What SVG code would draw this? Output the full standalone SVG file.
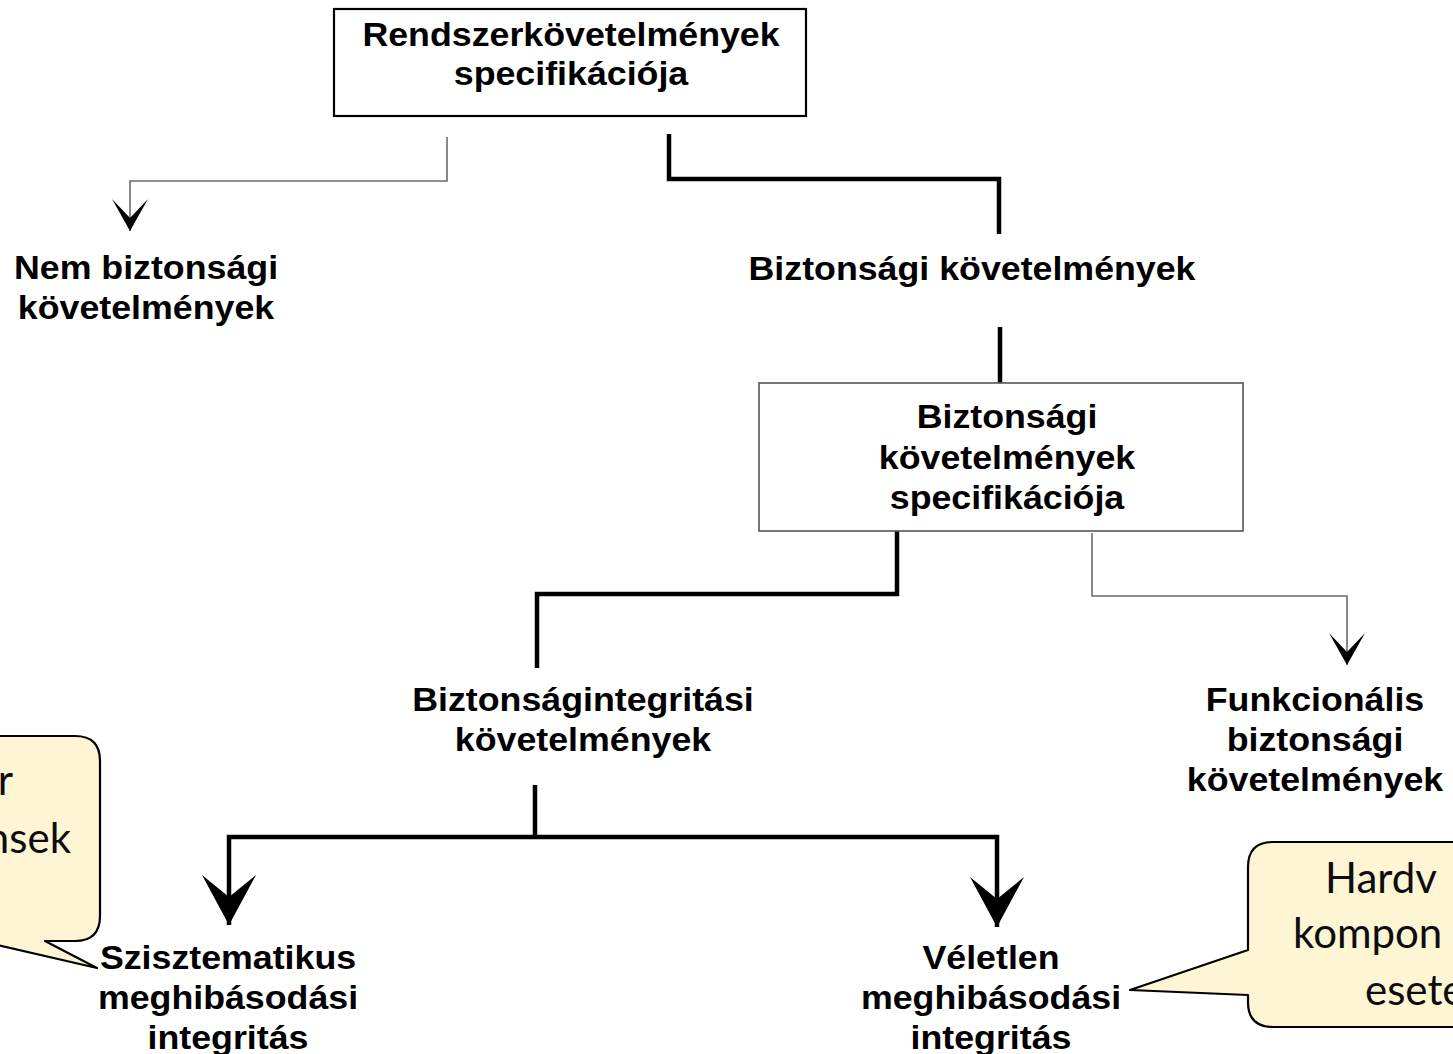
<svg xmlns="http://www.w3.org/2000/svg" width="1453" height="1054" viewBox="0 0 1453 1054">
<style>
.lbl{font-family:"Liberation Sans",Arial,sans-serif;font-weight:bold;font-size:32.5px;fill:#000;text-anchor:middle}
.box{fill:#fff}
.thin{fill:none;stroke:#6b6b6b;stroke-width:1.6}
.thick{fill:none;stroke:#000;stroke-width:4.5;stroke-linecap:butt;stroke-linejoin:miter}
.call{fill:#fef5d4;stroke:#000;stroke-width:2.2;stroke-linejoin:round}
.ct{font-family:Lato,"Open Sans",sans-serif;font-size:42px;fill:#0d0d0d}
</style>
<defs>
<marker id="ahThin" markerUnits="userSpaceOnUse" markerWidth="40" markerHeight="40" viewBox="-34 -20 36 40" refX="0" refY="0" orient="auto" overflow="visible">
<path d="M0,0 L-32,-18 L-13,0 L-32,18 Z" fill="#000"/>
</marker>
<marker id="ahThick" markerUnits="userSpaceOnUse" markerWidth="60" markerHeight="60" viewBox="-52 -30 54 60" refX="0" refY="0" orient="auto" overflow="visible">
<path d="M0,0 L-50,-27 L-28,0 L-50,27 Z" fill="#000"/>
</marker>
</defs>
<rect width="1453" height="1054" fill="#fff"/>

<g id="connectors">
<polyline class="thin" points="447,137 447,181 130,181 130,231" marker-end="url(#ahThin)"/>
<polyline class="thick" points="669,134 669,179 999,179 999,234"/>
<line class="thick" x1="1000" y1="327" x2="1000" y2="383"/>
<polyline class="thick" points="897,531 897,594 537,594 537,668"/>
<polyline class="thin" points="1092,533 1092,596 1347,596 1347,665" marker-end="url(#ahThin)"/>
<line class="thick" x1="535" y1="785" x2="535" y2="837"/>
<polyline class="thick" points="535,837 229,837 229,925" marker-end="url(#ahThick)"/>
<polyline class="thick" points="535,837 997,837 997,927" marker-end="url(#ahThick)"/>
</g>

<g id="n-rendszer">
<rect class="box" x="334" y="9" width="472" height="107" stroke="#000" stroke-width="2.2"/>
<text class="lbl" transform="translate(571,46) scale(1.1,1)">Rendszerkövetelmények</text>
<text class="lbl" transform="translate(571,85) scale(1.1,1)">specifikációja</text>
</g>

<g id="n-nem">
<text class="lbl" transform="translate(146,279) scale(1.1,1)">Nem biztonsági</text>
<text class="lbl" transform="translate(146,319) scale(1.1,1)">követelmények</text>
</g>

<g id="n-bizt">
<text class="lbl" transform="translate(972,280) scale(1.1,1)">Biztonsági követelmények</text>
</g>

<g id="n-spec">
<rect class="box" x="759" y="383" width="484" height="148" stroke="#555" stroke-width="1.6"/>
<text class="lbl" transform="translate(1007,428) scale(1.1,1)">Biztonsági</text>
<text class="lbl" transform="translate(1007,469) scale(1.1,1)">követelmények</text>
<text class="lbl" transform="translate(1007,509) scale(1.1,1)">specifikációja</text>
</g>

<g id="n-integ">
<text class="lbl" transform="translate(583,711) scale(1.1,1)">Biztonságintegritási</text>
<text class="lbl" transform="translate(583,751) scale(1.1,1)">követelmények</text>
</g>

<g id="n-funk">
<text class="lbl" transform="translate(1315,711) scale(1.1,1)">Funkcionális</text>
<text class="lbl" transform="translate(1315,751) scale(1.1,1)">biztonsági</text>
<text class="lbl" transform="translate(1315,791) scale(1.1,1)">követelmények</text>
</g>

<g id="n-szisz">
<text class="lbl" transform="translate(228,969) scale(1.1,1)">Szisztematikus</text>
<text class="lbl" transform="translate(228,1009) scale(1.1,1)">meghibásodási</text>
<text class="lbl" transform="translate(228,1049) scale(1.1,1)">integritás</text>
</g>

<g id="n-velet">
<text class="lbl" transform="translate(991,969) scale(1.1,1)">Véletlen</text>
<text class="lbl" transform="translate(991,1009) scale(1.1,1)">meghibásodási</text>
<text class="lbl" transform="translate(991,1049) scale(1.1,1)">integritás</text>
</g>

<g id="callout-left">
<path class="call" d="M-30,736 H75 Q100,736 100,761 V916 Q100,941 75,941 H45 L97,968 L-20,941 H-30 Z"/>
<text class="ct" x="13" y="795" text-anchor="end">r</text>
<text class="ct" x="71" y="853" text-anchor="end">nsek</text>
</g>

<g id="callout-right">
<path class="call" d="M1130,990 L1248,950 V867 Q1248,842 1273,842 H1480 V1027 H1273 Q1248,1027 1248,1002 V995 Z"/>
<text class="ct" x="1325" y="893">Hardv</text>
<text class="ct" x="1293" y="948">kompon</text>
<text class="ct" x="1365" y="1005">esete</text>
</g>
</svg>
